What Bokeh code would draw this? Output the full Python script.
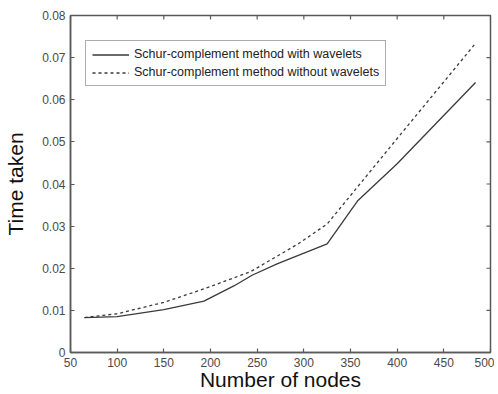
import math
from bokeh.plotting import figure
from bokeh.models import LinearAxis, FixedTicker, Range1d, Legend, LegendItem
from bokeh.embed import file_html
from bokeh.resources import INLINE

nodes_with = [65, 100, 150, 193, 225, 245, 272, 325, 358, 400, 484]
time_with = [0.0083, 0.0085, 0.0102, 0.0122, 0.0158, 0.0184, 0.0211, 0.0258, 0.0361, 0.0448, 0.0641]
nodes_without = [65, 100, 150, 193, 243, 294, 325, 400, 484]
time_without = [0.0083, 0.0092, 0.0119, 0.0151, 0.0192, 0.0258, 0.0305, 0.0508, 0.0734]
x_ticks = [50, 100, 150, 200, 250, 300, 350, 400, 450, 500]
y_ticks = [0, 0.01, 0.02, 0.03, 0.04, 0.05, 0.06, 0.07, 0.08]
y_tick_labels = ["0", "0.01", "0.02", "0.03", "0.04", "0.05", "0.06", "0.07", "0.08"]
label_with = "Schur-complement method with wavelets"
label_without = "Schur-complement method without wavelets"

FONT = "Liberation Sans"
AX = "#5a5a5a"
LINE = "#3a3a3a"

p = figure(width=494, height=393, output_backend="svg", toolbar_location=None,
           x_range=Range1d(50, 500), y_range=Range1d(0, 0.08),
           x_axis_location=None, y_axis_location=None,
           min_border_left=70, min_border_right=4, min_border_top=15, min_border_bottom=41)
p.grid.visible = False
p.outline_line_color = AX
p.outline_line_width = 1.5
p.background_fill_color = "white"
p.border_fill_color = "white"

def make_axis(ticks):
    ax = LinearAxis(ticker=FixedTicker(ticks=ticks))
    ax.major_tick_in = 4
    ax.major_tick_out = 0
    ax.minor_tick_in = 0
    ax.minor_tick_out = 0
    ax.axis_line_color = AX
    ax.axis_line_width = 1.5
    ax.major_tick_line_color = AX
    ax.major_tick_line_width = 1.2
    ax.major_label_text_font = FONT
    ax.major_label_text_color = "#4a4a4a"
    ax.major_label_text_font_size = "12px"
    ax.axis_label_text_font = FONT
    ax.axis_label_text_font_style = "normal"
    ax.axis_label_text_color = "#111111"
    ax.axis_label_text_font_size = "21px"
    return ax

xb = make_axis(x_ticks)
xb.axis_label = "Number of nodes"
xb.major_label_standoff = 5
xb.axis_label_standoff = -2
p.add_layout(xb, "below")

yl = make_axis(y_ticks)
yl.axis_label = "Time taken"
yl.major_label_overrides = {t: s for t, s in zip(y_ticks, y_tick_labels)}
yl.major_label_standoff = 5
yl.axis_label_standoff = 12
p.add_layout(yl, "left")

# tick marks on the top and right edges of the box (clipped to the frame, so half shows)
p.scatter(x_ticks, [y_ticks[-1]] * len(x_ticks), marker="dash", size=8, angle=math.pi / 2,
          line_color=AX, line_width=1.2)
p.scatter([x_ticks[-1]] * len(y_ticks), y_ticks, marker="dash", size=8,
          line_color=AX, line_width=1.2)

r1 = p.line(nodes_with, time_with, line_color=LINE, line_width=1.3)
r2 = p.line(nodes_without, time_without, line_color=LINE, line_width=1.3, line_dash="3 3")

legend = Legend(items=[LegendItem(label=label_with, renderers=[r1]),
                       LegendItem(label=label_without, renderers=[r2])],
                location=(15, 266))
legend.label_text_font = FONT
legend.label_text_font_size = "12.5px"
legend.label_text_color = "#222222"
legend.border_line_color = AX
legend.border_line_width = 1.5
legend.glyph_width = 37
legend.glyph_height = 13
legend.label_height = 13
legend.spacing = 4
legend.padding = 6
legend.margin = 0
legend.label_standoff = 5
p.add_layout(legend, "center")

open("out.html", "w").write(file_html(p, INLINE))
